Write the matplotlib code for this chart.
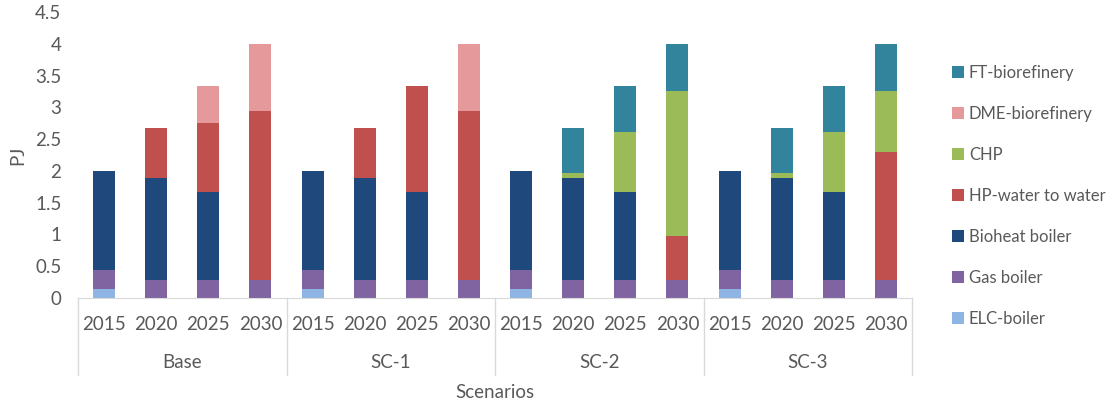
import numpy as np
import matplotlib
matplotlib.use("Agg")
import matplotlib.pyplot as plt
from matplotlib.patches import Patch
from matplotlib.transforms import blended_transform_factory

# Scenario / year structure
scenarios = ["Base", "SC-1", "SC-2", "SC-3"]
years = ["2015", "2020", "2025", "2030"]

# Heat supply by technology (PJ), ordered scenario by scenario, year by year
elc_boiler = [0.14, 0, 0, 0,   0.14, 0, 0, 0,   0.14, 0, 0, 0,   0.14, 0, 0, 0]
gas_boiler = [0.30, 0.28, 0.28, 0.28,   0.30, 0.28, 0.28, 0.28,
              0.30, 0.28, 0.28, 0.28,   0.30, 0.28, 0.28, 0.28]
bioheat_boiler = [1.56, 1.61, 1.38, 0,   1.56, 1.61, 1.38, 0,
                  1.56, 1.61, 1.38, 0,   1.56, 1.61, 1.38, 0]
hp_water = [0, 0.78, 1.10, 2.67,   0, 0.78, 1.67, 2.66,
            0, 0, 0, 0.70,   0, 0, 0, 2.01]
chp = [0, 0, 0, 0,   0, 0, 0, 0,   0, 0.07, 0.95, 2.27,   0, 0.07, 0.95, 0.96]
dme_biorefinery = [0, 0, 0.57, 1.05,   0, 0, 0, 1.06,   0, 0, 0, 0,   0, 0, 0, 0]
ft_biorefinery = [0, 0, 0, 0,   0, 0, 0, 0,   0, 0.71, 0.72, 0.75,   0, 0.71, 0.72, 0.75]

series = [
    ("ELC-boiler", elc_boiler, "#8DB4E2"),
    ("Gas boiler", gas_boiler, "#8064A2"),
    ("Bioheat boiler", bioheat_boiler, "#1F497D"),
    ("HP-water to water", hp_water, "#C0504D"),
    ("CHP", chp, "#9BBB59"),
    ("DME-biorefinery", dme_biorefinery, "#E6999B"),
    ("FT-biorefinery", ft_biorefinery, "#31849B"),
]

FONT = "Lato"
TXT = "#595959"
FS = 13.5
plt.rcParams["font.family"] = [FONT, "DejaVu Sans"]

W, H = 1118, 405
fig = plt.figure(figsize=(W / 100, H / 100), dpi=100)
ax = fig.add_axes([78 / W, 1 - 298 / H, (912 - 78) / W, (298 - 12) / H])

n = len(scenarios) * len(years)
x = np.arange(n)
bottom = np.zeros(n)
for name, vals, col in series:
    v = np.array(vals, dtype=float)
    ax.bar(x, v, width=0.42, bottom=bottom, color=col, label=name, linewidth=0)
    bottom += v

ax.set_xlim(-0.5, n - 0.5)
ax.set_ylim(0, 4.5)
ax.set_yticks(np.arange(0, 4.51, 0.5))
ax.set_yticklabels(["0", "0.5", "1", "1.5", "2", "2.5", "3", "3.5", "4", "4.5"])
ax.tick_params(axis="y", length=0, labelsize=FS, labelcolor=TXT, pad=12)
ax.set_xticks([])
for s in ("top", "right", "left"):
    ax.spines[s].set_visible(False)
ax.spines["bottom"].set_color("#D9D9D9")
ax.set_ylabel("PJ", fontsize=FS, color=TXT, labelpad=6)

# Two-level category axis
ax_h = 298 - 12
trans = blended_transform_factory(ax.transData, ax.transAxes)
for i in range(n):
    ax.text(x[i], -26 / ax_h, years[i % len(years)], transform=trans,
            ha="center", va="center", fontsize=FS, color=TXT)
for g, name in enumerate(scenarios):
    cx = g * len(years) + (len(years) - 1) / 2
    ax.text(cx, -64 / ax_h, name, transform=trans, ha="center", va="center",
            fontsize=FS, color=TXT)
for g in range(len(scenarios) + 1):
    bx = g * len(years) - 0.5
    ax.plot([bx, bx], [0, -77 / ax_h], transform=trans, color="#D9D9D9",
            lw=1, clip_on=False)

fig.text((78 + 912) / 2 / W, 1 - 393 / H, "Scenarios", ha="center", va="center",
         fontsize=FS, color=TXT)

handles = [Patch(facecolor=c, edgecolor="none", label=nm) for nm, _, c in series][::-1]
fig.legend(handles=handles, loc="upper left", bbox_to_anchor=(937 / W, 1 - 50 / H),
           frameon=False, fontsize=12, labelcolor=TXT, handlelength=0.72,
           handleheight=0.72, handletextpad=0.3, labelspacing=1.5)

fig.savefig("out.png", dpi=100)
